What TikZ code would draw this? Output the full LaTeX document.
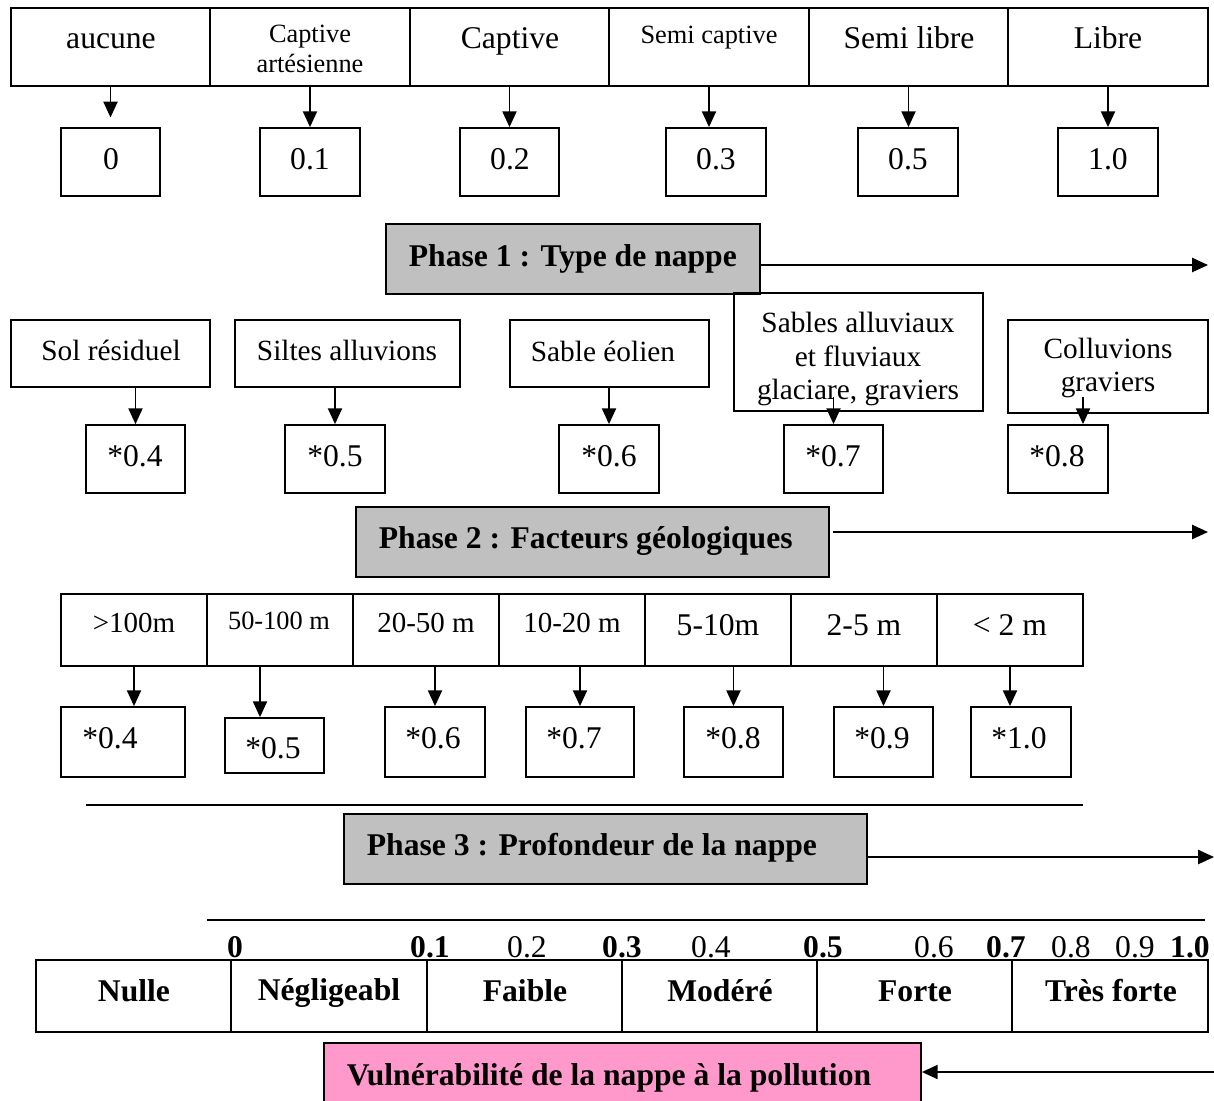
\documentclass[tikz,border=0pt]{standalone}
\usepackage{fontspec}
\setmainfont{Liberation Serif}
\usetikzlibrary{arrows.meta, fit}

\definecolor{phasegray}{HTML}{C0C0C0}
\definecolor{vulnpink}{HTML}{FF99CC}

\begin{document}
\begin{tikzpicture}[x=0.02cm, y=-0.02cm, line width=1pt,
    cell/.style={draw, inner sep=0pt},
    phase/.style={cell, fill=phasegray},
    lbl/.style={inner sep=0pt, align=center, font=\fontsize{18}{21}\selectfont},
    lblsm/.style={lbl, font=\fontsize{15}{17}\selectfont},
    lblmd/.style={lbl, font=\fontsize{16.5}{19}\selectfont},
    lbltall/.style={lbl, font=\fontsize{16.7}{19}\selectfont},
    boldlbl/.style={lbl, font=\fontsize{18}{21}\selectfont\bfseries},
    arr/.style={-{Triangle[length=9pt, width=8pt]}, line width=1.1pt}]
  \useasboundingbox (0,0) rectangle (1214,1100);

  % type de nappe
  \node[cell, fit={(11,8) (210,86)}] (a1) {};
  \node[cell, fit={(210,8) (410,86)}] (a2) {};
  \node[cell, fit={(410,8) (609,86)}] (a3) {};
  \node[cell, fit={(609,8) (809,86)}] (a4) {};
  \node[cell, fit={(809,8) (1008,86)}] (a5) {};
  \node[cell, fit={(1008,8) (1208,86)}] (a6) {};
  \node[lbl] (ta1) at (111,41) {aucune};
  \node[lblsm] (ta2) at (310,49) {Captive\\artésienne};
  \node[lbl] (ta3) at (510,41) {Captive};
  \node[lblsm] (ta4) at (709,38) {Semi captive};
  \node[lbl] (ta5) at (909,38) {Semi libre};
  \node[lbl] (ta6) at (1108,38) {Libre};

  \node[cell, fit={(61,128) (160,196)}] (b1) {};
  \node[cell, fit={(260,128) (360,196)}] (b2) {};
  \node[cell, fit={(460,128) (559,196)}] (b3) {};
  \node[cell, fit={(666,128) (766,196)}] (b4) {};
  \node[cell, fit={(858,128) (958,196)}] (b5) {};
  \node[cell, fit={(1058,128) (1158,196)}] (b6) {};
  \node[lbl] (tb1) at (111,159) {0};
  \node[lbl] (tb2) at (310,159) {0.1};
  \node[lbl] (tb3) at (510,159) {0.2};
  \node[lbl] (tb4) at (716,159) {0.3};
  \node[lbl] (tb5) at (908,159) {0.5};
  \node[lbl] (tb6) at (1108,159) {1.0};

  \draw[arr, shorten >=5.5pt] (a1.south) -- (a1.south |- b1.north);
  \draw[arr] (a2.south) -- (a2.south |- b2.north);
  \draw[arr] (a3.south) -- (a3.south |- b3.north);
  \draw[arr] (a4.south) -- (a4.south |- b4.north);
  \draw[arr] (a5.south) -- (a5.south |- b5.north);
  \draw[arr] (a6.south) -- (a6.south |- b6.north);

  % phase 1
  \node[phase, fit={(386,224) (760,294)}] (p1) {};
  \node[boldlbl, anchor=west] (tp1) at (408,259) {Phase 1 : Type de nappe};
  \coordinate (e1) at (1208,265);
  \draw[arr] (p1.east |- e1) -- (e1);

  % facteurs geologiques
  \node[cell, fit={(11,320) (210,387)}] (c1) {};
  \node[cell, fit={(235,320) (460,387)}] (c2) {};
  \node[cell, fit={(510,320) (709,387)}] (c3) {};
  \node[cell, fit={(734,293) (983,411)}] (c4) {};
  \node[cell, fit={(1008,320) (1208,413)}] (c5) {};
  \node[lbltall] (tc1) at (111,350) {Sol résiduel};
  \node[lbltall] (tc2) at (347,350) {Siltes alluvions};
  \node[lbltall] (tc3) at (603,351) {Sable éolien};
  \node[lbltall] (tc4) at (858,359) {Sables alluviaux\\et fluviaux\\glaciare, graviers};
  \node[lbltall] (tc5) at (1108,368) {Colluvions\\graviers};

  \node[cell, fit={(86,425) (185,493)}] (d1) {};
  \node[cell, fit={(285,425) (385,493)}] (d2) {};
  \node[cell, fit={(559,425) (659,493)}] (d3) {};
  \node[cell, fit={(784,425) (883,493)}] (d4) {};
  \node[cell, fit={(1008,425) (1108,493)}] (d5) {};
  \node[lbl] (td1) at (135,456) {*0.4};
  \node[lbl] (td2) at (335,456) {*0.5};
  \node[lbl] (td3) at (609,456) {*0.6};
  \node[lbl] (td4) at (833,456) {*0.7};
  \node[lbl] (td5) at (1057,456) {*0.8};

  \draw[arr] (d1.north |- c1.south) -- (d1.north);
  \draw[arr] (d2.north |- c2.south) -- (d2.north);
  \draw[arr] (d3.north |- c3.south) -- (d3.north);
  \draw[arr] ([yshift=0.54cm]d4.north) -- (d4.north);
  \draw[arr] ([xshift=0.5cm, yshift=0.54cm]d5.north) -- ([xshift=0.5cm]d5.north);

  % phase 2
  \node[phase, fit={(356,507) (829,577)}] (p2) {};
  \node[boldlbl, anchor=west] (tp2) at (378,541) {Phase 2 : Facteurs géologiques};
  \coordinate (e2) at (1208,532);
  \draw[arr, shorten <=2pt] (p2.east |- e2) -- (e2);

  % profondeur
  \node[cell, fit={(61,594) (207,666)}] (f1) {};
  \node[cell, fit={(207,594) (353,666)}] (f2) {};
  \node[cell, fit={(353,594) (499,666)}] (f3) {};
  \node[cell, fit={(499,594) (645,666)}] (f4) {};
  \node[cell, fit={(645,594) (791,666)}] (f5) {};
  \node[cell, fit={(791,594) (937,666)}] (f6) {};
  \node[cell, fit={(937,594) (1083,666)}] (f7) {};
  \node[lblmd] (tf1) at (134,623) {>100m};
  \node[lblsm] (tf2) at (279,621) {50-100 m};
  \node[lblmd] (tf3) at (426,623) {20-50 m};
  \node[lblmd] (tf4) at (572,623) {10-20 m};
  \node[lbl] (tf5) at (718,625) {5-10m};
  \node[lbl] (tf6) at (864,625) {2-5 m};
  \node[lbl] (tf7) at (1010,625) {< 2 m};

  \node[cell, fit={(61,707) (185,777)}] (g1) {};
  \node[cell, fit={(225,718) (324,773)}] (g2) {};
  \node[cell, fit={(385,707) (485,777)}] (g3) {};
  \node[cell, fit={(526,707) (634,777)}] (g4) {};
  \node[cell, fit={(684,707) (783,777)}] (g5) {};
  \node[cell, fit={(834,707) (933,777)}] (g6) {};
  \node[cell, fit={(971,707) (1071,777)}] (g7) {};
  \node[lbl] (tg1) at (110,738) {*0.4};
  \node[lbl] (tg2) at (273,748) {*0.5};
  \node[lbl] (tg3) at (433,738) {*0.6};
  \node[lbl] (tg4) at (574,738) {*0.7};
  \node[lbl] (tg5) at (733,738) {*0.8};
  \node[lbl] (tg6) at (882,738) {*0.9};
  \node[lbl] (tg7) at (1019,738) {*1.0};

  \draw[arr] (f1.south) -- (f1.south |- g1.north);
  \draw[arr] ([xshift=-0.4cm]f2.south) -- ([xshift=-0.4cm]f2.south |- g2.north);
  \draw[arr] (g3.north |- f3.south) -- (g3.north);
  \draw[arr] (g4.north |- f4.south) -- (g4.north);
  \draw[arr] (g5.north |- f5.south) -- (g5.north);
  \draw[arr] (g6.north |- f6.south) -- (g6.north);
  \draw[arr] (f7.south) -- (f7.south |- g7.north);

  \draw (86,805) -- (1083,805);

  % phase 3
  \node[phase, fit={(344,814) (867,884)}] (p3) {};
  \node[boldlbl, anchor=west] (tp3) at (366,848) {Phase 3 : Profondeur de la nappe};
  \coordinate (e3) at (1214,857);
  \draw[arr] (p3.east |- e3) -- (e3);

  \draw (207,920) -- (1205,920);

  % echelle
  \node[boldlbl] (s0) at (235,947) {0};
  \node[boldlbl] (s1) at (430,947) {0.1};
  \node[lbl] (s2) at (527,947) {0.2};
  \node[boldlbl] (s3) at (622,947) {0.3};
  \node[lbl] (s4) at (711,947) {0.4};
  \node[boldlbl] (s5) at (823,947) {0.5};
  \node[lbl] (s6) at (934,947) {0.6};
  \node[boldlbl] (s7) at (1006,947) {0.7};
  \node[lbl] (s8) at (1071,947) {0.8};
  \node[lbl] (s9) at (1135,947) {0.9};
  \node[boldlbl] (s10) at (1190,947) {1.0};

  \node[cell, fit={(36,960) (231,1032)}] (k1) {};
  \node[cell, fit={(231,960) (427,1032)}] (k2) {};
  \node[cell, fit={(427,960) (622,1032)}] (k3) {};
  \node[cell, fit={(622,960) (817,1032)}] (k4) {};
  \node[cell, fit={(817,960) (1012,1032)}] (k5) {};
  \node[cell, fit={(1012,960) (1208,1032)}] (k6) {};
  \node[boldlbl] (tk1) at (134,991) {Nulle};
  \node[boldlbl] (tk2) at (329,993) {Négligeabl};
  \node[boldlbl] (tk3) at (525,991) {Faible};
  \node[boldlbl] (tk4) at (720,991) {Modéré};
  \node[boldlbl] (tk5) at (915,991) {Forte};
  \node[boldlbl] (tk6) at (1111,991) {Très forte};

  % vulnerabilite
  \node[cell, fill=vulnpink, fit={(324,1043) (921,1112)}] (vp) {};
  \node[boldlbl, anchor=west] (tvp) at (346,1078) {Vulnérabilité de la nappe à la pollution};
  \coordinate (e4) at (1214,1072);
  \draw[arr] (e4) -- (vp.east |- e4);
\end{tikzpicture}
\end{document}
